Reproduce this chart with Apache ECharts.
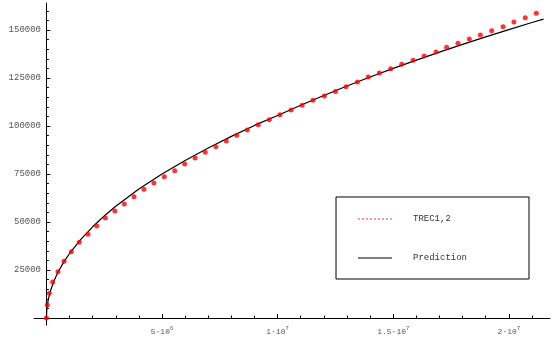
<!DOCTYPE html>
<html>
<head>
<meta charset="utf-8">
<script src="https://cdn.jsdelivr.net/npm/echarts@6/dist/echarts.min.js"></script>
<style>
  html, body { margin: 0; padding: 0; background: #fff; }
  #chart { width: 552px; height: 343px; }
</style>
</head>
<body>
<div id="chart"></div>
<script>
// measured points (TREC1,2)
const trecX = [0, 0.04e6, 0.125e6, 0.27e6, 0.5e6, 0.76e6, 1.08e6, 1.42e6, 1.8e6, 2.18e6,
  2.55e6, 2.96e6, 3.37e6, 3.79e6, 4.22e6, 4.65e6, 5.1e6, 5.55e6, 5.98e6, 6.43e6,
  6.87e6, 7.33e6, 7.78e6, 8.23e6, 8.69e6, 9.16e6, 9.64e6, 10.1e6, 10.58e6, 11.06e6,
  11.53e6, 12.02e6, 12.5e6, 12.96e6, 13.45e6, 13.92e6, 14.4e6, 14.89e6, 15.37e6, 15.86e6,
  16.34e6, 16.85e6, 17.31e6, 17.8e6, 18.29e6, 18.77e6, 19.26e6, 19.75e6, 20.22e6, 20.71e6,
  21.19e6];
const trecY = [0, 6800, 12900, 18750, 24100, 29500, 34500, 39400, 43600, 47900,
  52100, 55700, 59400, 63200, 67000, 70300, 73600, 76700, 80200, 83300,
  86300, 89200, 92200, 95200, 97900, 100700, 103300, 105900, 108300, 110800,
  113400, 115600, 118000, 120500, 122900, 125500, 127600, 129800, 132100, 134200,
  136500, 138600, 141000, 143100, 145300, 147400, 149600, 151700, 154200, 156400,
  158700];

// prediction curve
const predX = [0, 0.02e6, 0.05e6, 0.1e6, 0.2e6, 0.35e6, 0.5e6, 0.75e6, 1e6, 1.5e6,
  2e6, 2.5e6, 3e6, 4e6, 5e6, 6e6, 7e6, 8e6, 9e6, 10e6,
  11e6, 12e6, 13e6, 14e6, 15e6, 16e6, 17e6, 18e6, 19e6, 20e6,
  21e6, 21.5e6];
const predY = [0, 4700, 7500, 10600, 15000, 19900, 23800, 29100, 33600, 41100,
  47500, 53100, 58200, 67200, 75000, 82000, 88500, 94600, 100300, 105500,
  110800, 115900, 120800, 125500, 130000, 134300, 138500, 142500, 146400, 150200,
  153900, 155700];

// ticks
const xMajor = [5e6, 10e6, 15e6, 20e6];
const xMajorText = [['5', '6'], ['1', '7'], ['1.5', '7'], ['2', '7']];
const xMinor = [1e6, 2e6, 3e6, 4e6, 6e6, 7e6, 8e6, 9e6, 11e6, 12e6, 13e6, 14e6,
  16e6, 17e6, 18e6, 19e6, 21e6];
const yMajor = [25000, 50000, 75000, 100000, 125000, 150000];
const yMinor = [5000, 10000, 15000, 20000, 30000, 35000, 40000, 45000, 55000, 60000,
  65000, 70000, 80000, 85000, 90000, 95000, 105000, 110000, 115000, 120000,
  130000, 135000, 140000, 145000, 155000, 160000];

const xMin = -536000, xMax = 21780000;
const yMin = -3650, yMax = 164060;

const chart = echarts.init(document.getElementById('chart'));

const dotIcon = 'path://M0,0h2v1h-2zM4,0h2v1h-2zM8,0h2v1h-2zM12,0h2v1h-2zM16,0h2v1h-2z' +
  'M20,0h2v1h-2zM24,0h2v1h-2zM28,0h2v1h-2zM32,0h2v1h-2z';
const lineIcon = 'path://M0,0h34v1h-34z';

function minorAxis(dimTicks) {
  return {
    type: 'value',
    axisLine: { show: false, onZero: true },
    axisTick: { inside: true, length: 2.5, customValues: dimTicks, lineStyle: { color: '#000' } },
    axisLabel: { show: false },
    splitLine: { show: false }
  };
}

const option = {
  animation: false,
  backgroundColor: '#fff',
  grid: { left: 34, right: 2, top: 3, bottom: 18, containLabel: false, outerBoundsMode: 'none' },
  legend: {
    orient: 'vertical',
    left: 336,
    top: 197,
    padding: [17, 40, 16, 22],
    itemGap: 29,
    itemWidth: 34,
    itemHeight: 2,
    borderColor: '#000',
    borderWidth: 1,
    selectedMode: false,
    textStyle: {
      fontFamily: 'Liberation Mono, monospace',
      fontSize: 9,
      color: '#333',
      lineHeight: 10,
      width: 76,
      padding: [0, 0, 0, 16]
    },
    data: [
      { name: 'TREC1,2', icon: dotIcon },
      { name: 'Prediction', icon: lineIcon }
    ]
  },
  xAxis: [
    {
      type: 'value',
      min: xMin,
      max: xMax,
      position: 'bottom',
      axisLine: { onZero: true, lineStyle: { color: '#000', width: 1 } },
      axisTick: { inside: true, length: 4, customValues: xMajor, lineStyle: { color: '#000' } },
      axisLabel: {
        customValues: xMajor,
        margin: 1,
        formatter: function (v) {
          const t = xMajorText[xMajor.indexOf(v)];
          return '{b|' + t[0] + '·10}{s|' + t[1] + '}';
        },
        rich: {
          b: { fontFamily: 'Liberation Mono, monospace', fontSize: 8, color: '#555' },
          s: { fontFamily: 'Liberation Mono, monospace', fontSize: 5.5, color: '#555', padding: [0, 0, 6, 0] }
        }
      },
      splitLine: { show: false }
    },
    Object.assign(minorAxis(xMinor), { min: xMin, max: xMax, position: 'bottom' })
  ],
  yAxis: [
    {
      type: 'value',
      min: yMin,
      max: yMax,
      position: 'left',
      axisLine: { onZero: true, lineStyle: { color: '#000', width: 1 } },
      axisTick: { inside: true, length: 4, customValues: yMajor, lineStyle: { color: '#000' } },
      axisLabel: {
        customValues: yMajor,
        margin: -7,
        formatter: function (v) { return String(v); },
        fontFamily: 'Liberation Mono, monospace',
        fontSize: 9,
        color: '#555'
      },
      splitLine: { show: false }
    },
    Object.assign(minorAxis(yMinor), { min: yMin, max: yMax, position: 'left' })
  ],
  series: [
    {
      name: 'Prediction',
      type: 'line',
      data: predX.map((x, i) => [x, predY[i]]),
      symbol: 'none',
      color: '#000',
      lineStyle: { color: '#000', width: 1.2 },
      z: 2
    },
    {
      name: 'TREC1,2',
      type: 'scatter',
      data: trecX.map((x, i) => [x, trecY[i]]),
      symbol: 'circle',
      symbolSize: 5,
      itemStyle: { color: '#ff0000' },
      z: 3
    }
  ]
};

chart.setOption(option);
</script>
</body>
</html>
